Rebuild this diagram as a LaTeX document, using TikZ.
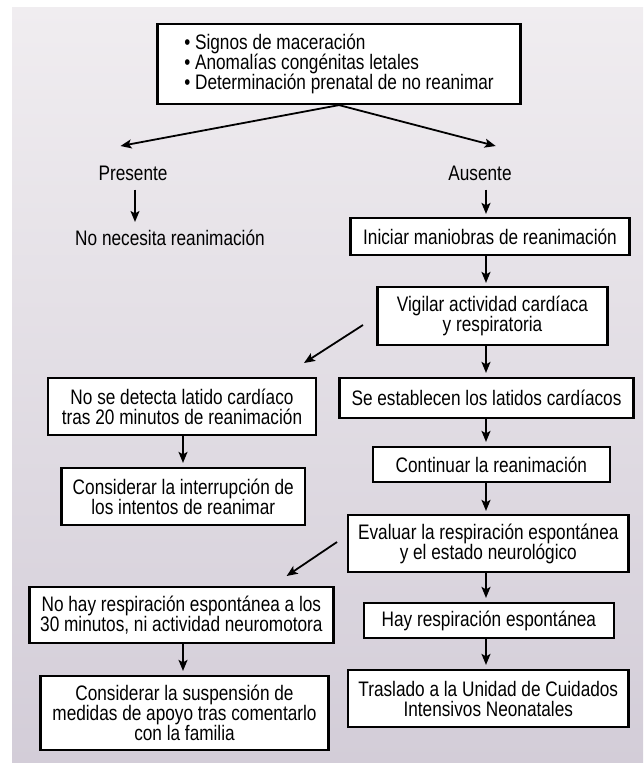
\documentclass[tikz,border=0pt]{standalone}
\usepackage{fontspec}
\setmainfont{Liberation Sans}[FakeStretch=0.82]
\usetikzlibrary{arrows.meta,calc}
\newcommand\fsz{\fontsize{21}{20}\selectfont}
\definecolor{bgtop}{HTML}{F0EDF0}
\definecolor{bgbot}{HTML}{D3CDD8}
\begin{document}
\begin{tikzpicture}[x=1pt,y=-1pt,
  box/.style={draw=black,line width=2.2pt,fill=white,align=center,inner sep=2pt,font=\fsz},
  lbl/.style={align=center,inner sep=1pt,font=\fsz},
  arr/.style={line width=1.8pt,-{Stealth[length=11pt,width=9pt,inset=2.5pt]}},
]
\useasboundingbox (0,0) rectangle (643,763);
\shade[top color=bgtop,bottom color=bgbot] (12,7) rectangle (643,763);

% top box
\node[box,minimum width=363pt,minimum height=80pt,align=left] (top) at (339,64)
  {\textbullet\ Signos de maceración\\ \textbullet\ Anomalías congénitas letales\\ \textbullet\ Determinación prenatal de no reanimar};

\node[lbl] (pres) at (133,173) {Presente};
\node[lbl] (aus) at (480,173) {Ausente};
\node[lbl] (nonec) at (170,238) {No necesita reanimación};

\node[box,minimum width=279pt,minimum height=37pt] (inic) at (490,236.5) {Iniciar maniobras de reanimación};
\node[box,minimum width=230pt,minimum height=58pt] (vig) at (492.5,316) {Vigilar actividad cardíaca\\y respiratoria};
\node[box,minimum width=268pt,minimum height=57pt] (nodet) at (182,406.5) {No se detecta latido cardíaco\\tras 20 minutos de reanimación};
\node[box,minimum width=294pt,minimum height=40pt] (seest) at (486.5,398) {Se establecen los latidos cardíacos};
\node[box,minimum width=243.5pt,minimum height=57pt] (consint) at (183.3,496.5) {Considerar la interrupción de\\los intentos de reanimar};
\node[box,minimum width=237.5pt,minimum height=35pt] (cont) at (491.4,464.5) {Continuar la reanimación};
\node[box,minimum width=280.5pt,minimum height=57pt] (eval) at (488.3,543.5) {Evaluar la respiración espontánea\\y el estado neurológico};
\node[box,minimum width=304pt,minimum height=56pt] (nohay) at (181.4,615) {No hay respiración espontánea a los\\30 minutos, ni actividad neuromotora};
\node[box,minimum width=250pt,minimum height=35pt] (hay) at (488.9,620.5) {Hay respiración espontánea};
\node[box,minimum width=280.5pt,minimum height=57pt] (tras) at (488.3,698.5) {Traslado a la Unidad de Cuidados\\Intensivos Neonatales};
\node[box,minimum width=288pt,minimum height=74pt] (conssus) at (184.5,713) {Considerar la suspensión de\\medidas de apoyo tras comentarlo\\con la familia};

% free-end coordinates
\coordinate (tl) at (120.5,146);
\coordinate (tr) at (495.7,146);
\coordinate (v1) at (363,325);
\coordinate (v2) at (304,363);
\coordinate (e1) at (337,542);
\coordinate (e2) at (286.6,576);
\coordinate (rx) at (486,0);
\coordinate (px) at (135,0);
\coordinate (lx) at (183,0);

\draw[arr] (top.south) -- (tl);
\draw[arr] (top.south) -- (tr);
\draw[arr] ($(pres.south -| px)+(0,8)$) -- ($(nonec.north -| px)+(0,-7)$);
\draw[arr] ($(aus.south -| rx)+(0,8)$) -- ($(inic.north -| rx)+(0,-3)$);
\draw[arr,shorten >=3pt] (inic.south -| rx) -- (vig.north -| rx);
\draw[arr] (v1) -- (v2);
\draw[arr,shorten >=4pt] (vig.south -| rx) -- (seest.north -| rx);
\draw[arr,shorten >=4pt] (nodet.south -| lx) -- (consint.north -| lx);
\draw[arr,shorten >=4pt] (seest.south -| rx) -- (cont.north -| rx);
\draw[arr,shorten >=3pt] (cont.south -| rx) -- (eval.north -| rx);
\draw[arr] (e1) -- (e2);
\draw[arr,shorten >=4pt] (eval.south -| rx) -- (hay.north -| rx);
\draw[arr,shorten >=4pt] (hay.south -| rx) -- (tras.north -| rx);
\draw[arr,shorten >=4pt] (nohay.south -| lx) -- (conssus.north -| lx);
\end{tikzpicture}
\end{document}
